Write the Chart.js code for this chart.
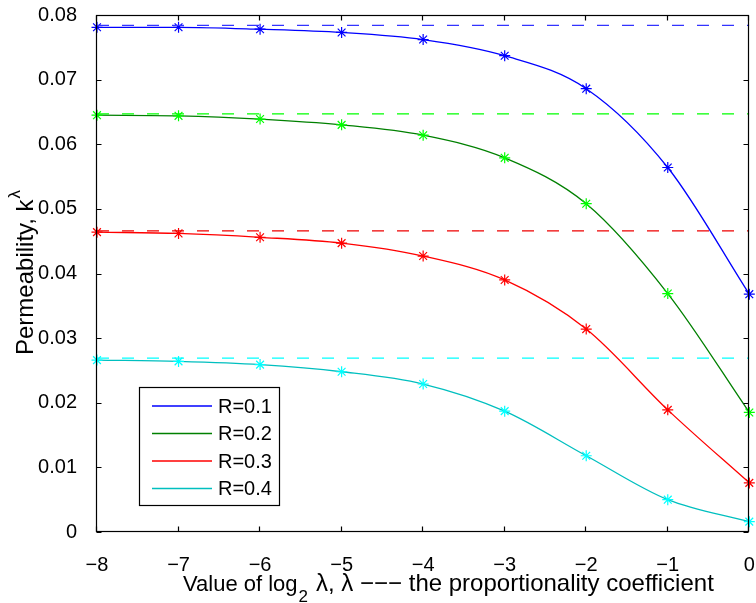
<!DOCTYPE html>
<html>
<head>
<meta charset="utf-8">
<script src="https://cdn.jsdelivr.net/npm/chart.js@4/dist/chart.umd.min.js"></script>
<style>
  html, body { margin: 0; padding: 0; background: #fff; }
  #wrap { width: 756px; height: 603px; }
</style>
</head>
<body>
<div id="wrap"><canvas id="permChart" width="756" height="603"></canvas></div>
<script>
// log2 of lambda
const xValues = [-8, -7, -6, -5, -4, -3, -2, -1, 0];

// permeability k^lambda for each R
const permR01 = [0.0781, 0.0781, 0.0778, 0.0773, 0.0762, 0.0737, 0.0686, 0.0564, 0.0368];
const permR02 = [0.0645, 0.0644, 0.0639, 0.0630, 0.0614, 0.0579, 0.0508, 0.0369, 0.0185];
const permR03 = [0.0464, 0.0462, 0.0456, 0.0447, 0.0427, 0.0390, 0.0314, 0.0189, 0.0076];
const permR04 = [0.0266, 0.0264, 0.0259, 0.0248, 0.0229, 0.0187, 0.0118, 0.0050, 0.0016];

// limit values (dashed reference lines)
const limitValues = [0.0784, 0.0647, 0.0466, 0.0269];

const seriesLabels = ['R=0.1', 'R=0.2', 'R=0.3', 'R=0.4'];
const xTicks = [-8, -7, -6, -5, -4, -3, -2, -1, 0];
const yTicks = [0, 0.01, 0.02, 0.03, 0.04, 0.05, 0.06, 0.07, 0.08];

const FONT = "'Liberation Sans', Arial, Helvetica, sans-serif";
const lineColors = ['#0000ff', '#008000', '#ff0000', '#00bfbf'];
const markColors = ['#0000ff', '#00ff00', '#ff0000', '#00ffff'];
const dashColors = ['#3333ff', '#00ff00', '#ee0000', '#00ffff'];

const allSeries = [permR01, permR02, permR03, permR04];
const toPoints = vals => xValues.map((x, i) => ({ x: x, y: vals[i] }));

const datasets = [];
// dashed asymptotes
limitValues.forEach((v, i) => {
    datasets.push({
        label: 'limit ' + seriesLabels[i],
        data: [{ x: xValues[0], y: v }, { x: xValues[xValues.length - 1], y: v }],
        borderColor: dashColors[i],
        borderWidth: 1.3,
        borderDash: [12, 13],
        pointRadius: 0,
        fill: false,
        isLimit: true
    });
});
// curves with asterisk markers
allSeries.forEach((vals, i) => {
    datasets.push({
        label: seriesLabels[i],
        data: toPoints(vals),
        borderColor: lineColors[i],
        borderWidth: 1.3,
        cubicInterpolationMode: 'monotone',
        pointStyle: 'star',
        pointRadius: 5.5,
        pointBorderColor: markColors[i],
        pointBackgroundColor: 'rgba(0,0,0,0)',
        pointBorderWidth: 1.2,
        fill: false,
        clip: false
    });
});

// scales should not push the plot area inwards for overhanging labels
function noScalePadding(scale) {
    scale.paddingLeft = 0;
    scale.paddingRight = 0;
    scale.paddingTop = 0;
    scale.paddingBottom = 0;
}

// box around the plot plus inward tick marks on all four sides
const frameTicks = {
    id: 'frameTicks',
    afterDraw(chart) {
        const { ctx, chartArea: a, scales: { x, y } } = chart;
        const L = Math.round(a.left) - 0.5, R = Math.round(a.right) - 0.5;
        const T = Math.round(a.top) + 0.5, B = Math.round(a.bottom) - 0.5;
        const len = 5;
        ctx.save();
        ctx.strokeStyle = '#000';
        ctx.lineWidth = 1.2;
        ctx.strokeRect(L, T, R - L, B - T);
        ctx.beginPath();
        xTicks.forEach(v => {
            const px = Math.round(x.getPixelForValue(v)) - 0.5;
            ctx.moveTo(px, B); ctx.lineTo(px, B - len);
            ctx.moveTo(px, T); ctx.lineTo(px, T + len);
        });
        yTicks.forEach(v => {
            const py = Math.round(y.getPixelForValue(v)) + 0.5;
            ctx.moveTo(L, py); ctx.lineTo(L + len, py);
            ctx.moveTo(R, py); ctx.lineTo(R - len, py);
        });
        ctx.stroke();
        ctx.restore();
    }
};

// axis titles with sub/superscripts
const axisTitles = {
    id: 'axisTitles',
    afterDraw(chart) {
        const ctx = chart.ctx;
        ctx.save();
        ctx.fillStyle = '#000';
        ctx.textBaseline = 'alphabetic';
        ctx.textAlign = 'left';

        // x title
        let xPos = 183;
        const base = 591;
        ctx.font = '22px ' + FONT;
        ctx.fillText('Value of log', xPos, base);
        xPos += ctx.measureText('Value of log').width + 1;
        ctx.font = '17px ' + FONT;
        ctx.fillText('2', xPos, base + 11);
        xPos += ctx.measureText('2').width + 8;
        ctx.font = '24px ' + FONT;
        ctx.fillText('\u03bb, \u03bb \u2212\u2212\u2212 the proportionality coefficient', xPos, base);

        // y title
        ctx.translate(33, 355);
        ctx.rotate(-Math.PI / 2);
        ctx.font = '24px ' + FONT;
        ctx.fillText('Permeability, k', 0, 0);
        const w = ctx.measureText('Permeability, k').width;
        ctx.font = '17px ' + FONT;
        ctx.fillText('\u03bb', w + 1, -13);
        ctx.restore();
    }
};

// legend box inside the axes, lower left
const innerLegend = {
    id: 'innerLegend',
    afterDraw(chart) {
        const ctx = chart.ctx;
        const box = { left: 139, top: 387, width: 140, height: 118 };
        ctx.save();
        ctx.fillStyle = '#fff';
        ctx.fillRect(box.left, box.top, box.width, box.height);
        ctx.strokeStyle = '#000';
        ctx.lineWidth = 1.2;
        ctx.strokeRect(box.left + 0.5, box.top + 0.5, box.width, box.height);
        ctx.font = '20px ' + FONT;
        ctx.textBaseline = 'middle';
        ctx.textAlign = 'left';
        const curves = chart.data.datasets.filter(d => !d.isLimit);
        curves.forEach((d, i) => {
            const yy = 406 + i * 27.5;
            ctx.strokeStyle = d.borderColor;
            ctx.lineWidth = 1.3;
            ctx.beginPath();
            ctx.moveTo(152, yy);
            ctx.lineTo(212, yy);
            ctx.stroke();
            ctx.fillStyle = '#000';
            ctx.fillText(d.label, 218, yy + 1);
        });
        ctx.restore();
    }
};

new Chart(document.getElementById('permChart').getContext('2d'), {
    type: 'line',
    data: { datasets: datasets },
    options: {
        responsive: false,
        animation: false,
        layout: { padding: { top: 15, right: 3, left: 0, bottom: 0 } },
        plugins: {
            legend: { display: false },
            tooltip: { enabled: false }
        },
        scales: {
            x: {
                type: 'linear',
                min: -8,
                max: 0,
                grid: { display: false },
                border: { display: false },
                afterFit: scale => { scale.height = 71; noScalePadding(scale); },
                afterBuildTicks: scale => { scale.ticks = xTicks.map(v => ({ value: v })); },
                ticks: {
                    color: '#000',
                    padding: 13,
                    maxRotation: 0,
                    font: { family: FONT, size: 20 },
                    callback: v => v === 0 ? '0' : '\u2212' + Math.abs(v)
                }
            },
            y: {
                min: 0,
                max: 0.08,
                grid: { display: false },
                border: { display: false },
                afterFit: scale => { scale.width = 97; noScalePadding(scale); },
                afterBuildTicks: scale => { scale.ticks = yTicks.map(v => ({ value: v })); },
                ticks: {
                    color: '#000',
                    padding: 12,
                    font: { family: FONT, size: 20 },
                    callback: v => v === 0 ? '0' : v.toFixed(2)
                }
            }
        }
    },
    plugins: [frameTicks, axisTitles, innerLegend]
});
</script>
</body>
</html>
